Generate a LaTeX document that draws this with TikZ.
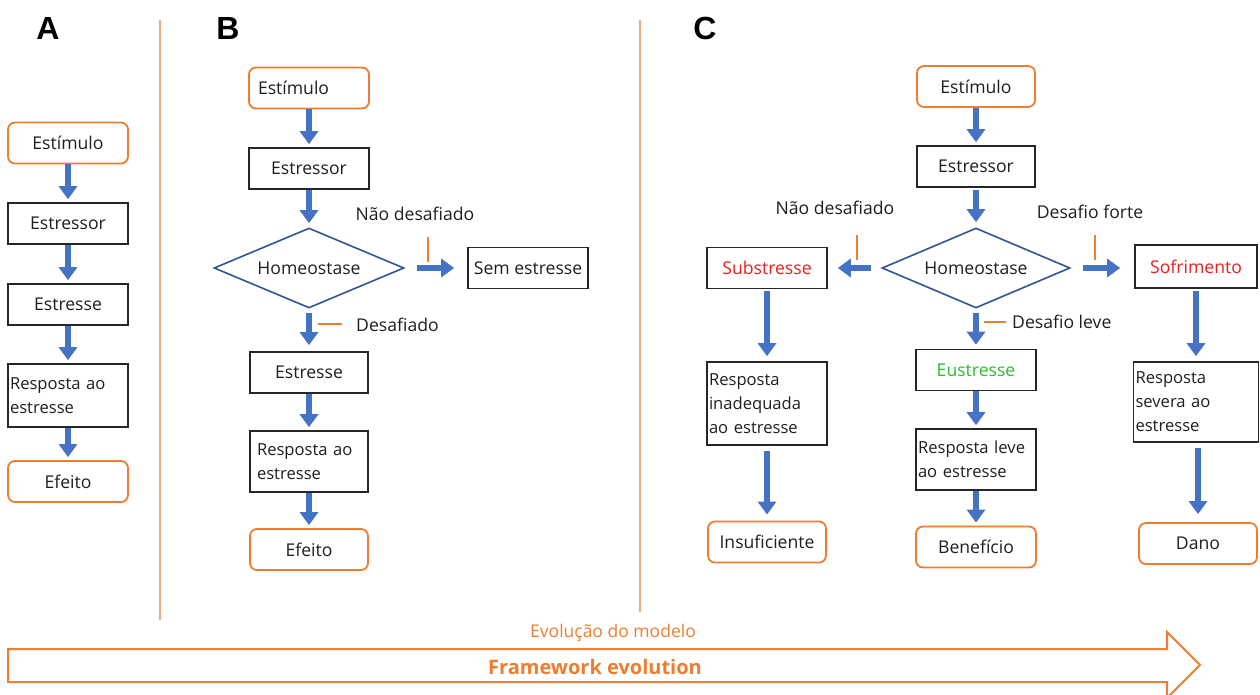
\documentclass[tikz,border=0pt]{standalone}
\usepackage{fontspec}
\setmainfont{Open Sans}
\newfontfamily\letterfont{Liberation Sans}
\usetikzlibrary{arrows.meta,shapes.geometric}
\definecolor{arrowblue}{RGB}{68,114,196}
\definecolor{boxorange}{RGB}{237,125,49}
\definecolor{diamondblue}{RGB}{47,85,151}
\definecolor{sepline}{RGB}{240,170,130}
\definecolor{txtred}{RGB}{235,30,30}
\definecolor{txtgreen}{RGB}{40,190,40}
\definecolor{txt}{RGB}{30,30,30}
\begin{document}
\begin{tikzpicture}[x=1pt,y=-1pt,
  every node/.style={font=\fontsize{17.6}{24}\selectfont, text=txt},
  blackbox/.style={draw=black!85, line width=1.6pt, minimum width=120pt, minimum height=41pt, inner sep=2pt},
  orangebox/.style={draw=boxorange, line width=1.8pt, rounded corners=7pt, minimum width=120pt, minimum height=41pt, inner sep=2pt},
  multibox/.style={blackbox, text width=116pt, inner xsep=2pt, align=left, font=\fontsize{16.6}{24}\selectfont},
  decision/.style={diamond, draw=diamondblue, line width=1.6pt, minimum width=190pt, minimum height=80pt, inner sep=0pt, aspect=2.4},
  flow/.style={draw=arrowblue, line width=5.5pt, -{Triangle[width=18pt,length=13pt]}},
  tickmark/.style={draw=boxorange, line width=1.5pt},
  sidetext/.style={inner sep=0pt},
  panel/.style={font=\letterfont\bfseries\fontsize{32}{32}\selectfont, text=black, inner sep=0pt},
  sep/.style={draw=sepline, line width=1.5pt}
]
\useasboundingbox (0,0) rectangle (1260,695);

% ---------- Panel A ----------
\node[panel] (lA) at (48,28) {A};
\node[orangebox] (aStim) at (68,143) {Estímulo};
\node[blackbox] (aStr) at (68,223.5) {Estressor};
\node[blackbox] (aSt) at (68,304.5) {Estresse};
\node[multibox, minimum height=63pt] (aResp) at (68,395.5) {Resposta ao\\estresse};
\node[orangebox] (aEff) at (68,481.5) {Efeito};
\draw[flow, shorten >=3pt] (aStim) -- (aStr);
\draw[flow, shorten >=3pt] (aStr) -- (aSt);
\draw[flow, shorten >=3pt] (aSt) -- (aResp);
\draw[flow, shorten >=3pt] (aResp) -- (aEff);

\draw[sep] (160,20) -- (160,620);

% ---------- Panel B ----------
\node[panel] (lB) at (228,28) {B};
\node[orangebox, text width=102pt, align=left] (bStim) at (309,88) {Estímulo};
\node[blackbox] (bStr) at (309,168.5) {Estressor};
\node[decision] (bHom) at (309,268) {Homeostase};
\node[blackbox] (bNo) at (528,268) {Sem estresse};
\node[blackbox, minimum width=118pt] (bSt) at (309,372.5) {Estresse};
\node[multibox, minimum width=118pt, minimum height=61pt, text width=104pt] (bResp) at (309,461.5) {Resposta ao\\estresse};
\node[orangebox, minimum width=118pt] (bEff) at (309,549.5) {Efeito};
\draw[flow, shorten >=3pt] (bStim) -- (bStr);
\draw[flow, shorten >=4pt] (bStr) -- (bHom);
\draw[flow, shorten <=12pt, shorten >=13pt] (bHom) -- (bNo);
\draw[flow, shorten <=4pt, shorten >=6pt] (bHom) -- (bSt);
\draw[flow, shorten >=3pt] (bSt) -- (bResp);
\draw[flow, shorten >=3pt] (bResp) -- (bEff);
\draw[tickmark] (428,237) -- (428,262);
\draw[tickmark] (318,324) -- (342,324);
\node[sidetext] (bLblNo) at (415,214) {Não desafiado};
\node[sidetext, anchor=west] (bLblCh) at (356,325) {Desafiado};

\draw[sep] (640,20) -- (640,612);

% ---------- Panel C ----------
\node[panel] (lC) at (705,28) {C};
\node[orangebox, minimum width=118pt] (cStim) at (976,86.5) {Estímulo};
\node[blackbox, minimum width=118pt] (cStr) at (976,166.5) {Estressor};
\node[decision, minimum width=188pt] (cHom) at (976,268) {Homeostase};
\node[blackbox] (cSub) at (767,268) {\textcolor{txtred}{Substresse}};
\node[blackbox, minimum width=122pt, minimum height=43pt] (cSof) at (1196,266.5) {\textcolor{txtred}{Sofrimento}};
\node[blackbox] (cEu) at (976,370) {\textcolor{txtgreen}{Eustresse}};
\node[multibox, minimum height=61pt] (cLeve) at (976,459.5) {Resposta leve\\ao estresse};
\node[orangebox] (cBen) at (976,547) {Benefício};
\node[multibox, minimum height=83pt] (cInad) at (767,403.5) {Resposta\\inadequada\\ao estresse};
\node[orangebox, minimum width=118pt] (cIns) at (767,542) {Insuficiente};
\node[multibox, minimum height=80pt, minimum width=125pt, text width=121pt] (cSev) at (1196,402) {Resposta\\severa ao\\estresse};
\node[orangebox, minimum width=118pt] (cDano) at (1198,543.5) {Dano};

\draw[flow, shorten >=3pt] (cStim) -- (cStr);
\draw[flow, shorten <=2pt, shorten >=5pt] (cStr) -- (cHom);
\draw[flow, shorten <=10pt, shorten >=10pt] (cHom) -- (cSub);
\draw[flow, shorten <=12pt, shorten >=14pt] (cHom.east) -- (cSof.west |- cHom.east);
\draw[flow, shorten <=4pt, shorten >=4pt] (cHom) -- (cEu);
\draw[flow, shorten >=3pt] (cEu) -- (cLeve);
\draw[flow, shorten >=3pt] (cLeve) -- (cBen);
\draw[flow, shorten <=2pt, shorten >=5pt] (cSub) -- (cInad);
\draw[flow, shorten <=5pt, shorten >=6pt] (cInad) -- (cIns);
\draw[flow, shorten <=2pt, shorten >=5pt] (cSof) -- (cSev);
\draw[flow, shorten <=5pt, shorten >=8pt] (cSev.south -| cDano.north) -- (cDano.north);
\draw[tickmark] (857,235) -- (857,260);
\draw[tickmark] (1095,235) -- (1095,260);
\draw[tickmark] (984,322) -- (1006,322);
\node[sidetext] (cLblNo) at (835,208) {Não desafiado};
\node[sidetext] (cLblStrong) at (1090,212) {Desafio forte};
\node[sidetext, anchor=west] (cLblMild) at (1012,322) {Desafio leve};

% ---------- Bottom evolution arrow ----------
\draw[draw=boxorange, line width=2pt, line join=miter]
  (8,649) -- (1167,649) -- (1167,632) -- (1200,665) -- (1167,698) -- (1167,682) -- (8,682) -- cycle;
\node[sidetext, text=boxorange, font=\fontsize{17.5}{20}\selectfont] (evoPt) at (613,633) {Evolução do modelo};
\node[sidetext, text=boxorange, font=\bfseries\fontsize{20}{24}\selectfont] (evoEn) at (595,667) {Framework evolution};
\end{tikzpicture}
\end{document}
